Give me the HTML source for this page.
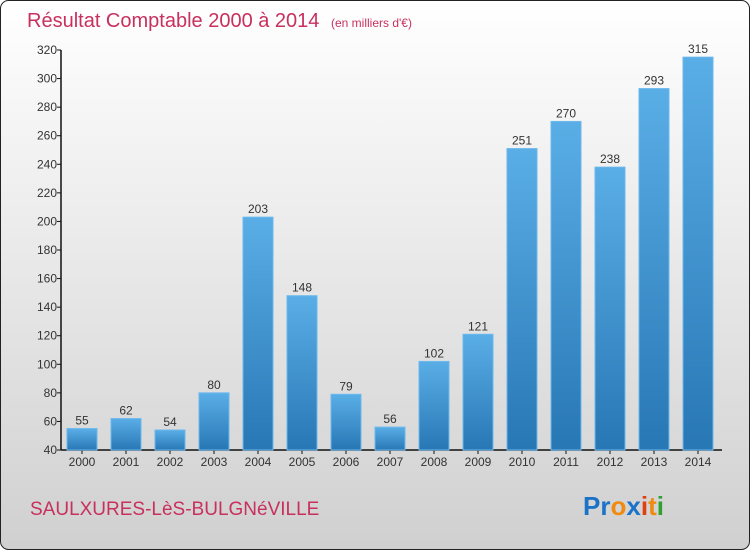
<!DOCTYPE html>
<html><head><meta charset="utf-8"><style>
html,body{margin:0;padding:0}
body{width:750px;height:550px;overflow:hidden;font-family:"Liberation Sans",sans-serif}
</style></head><body>
<svg width="750" height="550" xmlns="http://www.w3.org/2000/svg">
<defs>
<linearGradient id="bg" x1="0" y1="0" x2="0" y2="1"><stop offset="0" stop-color="#ffffff"/><stop offset="1" stop-color="#d0d0d0"/></linearGradient>
<linearGradient id="bar" x1="0" y1="0" x2="0" y2="1"><stop offset="0" stop-color="#5aaee6"/><stop offset="1" stop-color="#2877b5"/></linearGradient>
</defs>
<rect x="0.5" y="0.5" width="749" height="549" rx="8" fill="url(#bg)" stroke="#222"/>
<text x="27" y="27" font-size="20" fill="#c8305e">Résultat Comptable 2000 à 2014 <tspan font-size="12" dx="6">(en milliers d'€)</tspan></text>
<g id="axes"></g>
<g id="bars"></g>
<text x="30" y="515" font-size="19" fill="#c8305e">SAULXURES-LèS-BULGNéVILLE</text>
<text x="583" y="515" font-size="26" font-weight="bold"><tspan fill="#1a73c8">Pr</tspan><tspan fill="#f08a10">o</tspan><tspan fill="#1a73c8">x</tspan><tspan fill="#e04010">i</tspan><tspan fill="#f08a10">t</tspan><tspan fill="#30a030">i</tspan></text>
<script>
const years=["2000","2001","2002","2003","2004","2005","2006","2007","2008","2009","2010","2011","2012","2013","2014"];
const values=[55,62,54,80,203,148,79,56,102,121,251,270,238,293,315];
const yTicks=[40,60,80,100,120,140,160,180,200,220,240,260,280,300,320];
const NS="http://www.w3.org/2000/svg";
const y0=450,yTop=50,vMin=40,vMax=320,xAxis=61,x0=82,step=44,bw=30;
function ys(v){return y0-(v-vMin)*(y0-yTop)/(vMax-vMin);}
function xs(i){return x0+i*step;}
function mk(tag,attrs,parent,text){const e=document.createElementNS(NS,tag);for(const k in attrs)e.setAttribute(k,attrs[k]);if(text!==undefined)e.textContent=text;parent.appendChild(e);return e;}
const ax=document.getElementById('axes'),bg=document.getElementById('bars');
let l=mk('line',{x1:xAxis,y1:yTop,x2:xAxis,y2:y0,stroke:'#111','stroke-width':1.5},ax);


l=mk('line',{x1:xAxis,y1:y0,x2:722,y2:y0,stroke:'#111','stroke-width':1.5},ax);


yTicks.forEach(t=>{
 const y=ys(t);
 const tk=mk('line',{x1:xAxis-4,y1:y,x2:xAxis,y2:y,stroke:'#111'},ax);
 
 
 const tx=mk('text',{x:xAxis-4,y:y+4,'text-anchor':'end','font-size':12,fill:'#333'},ax,t);
 
 
});
years.forEach((yr,i)=>{
 const cx=xs(i),top=ys(values[i]);
 const r=mk('rect',{x:cx-bw/2,y:top,width:bw,height:y0-top,fill:'url(#bar)',stroke:'#6bb8ee','stroke-width':1},bg);
 
 
 const v=mk('text',{x:cx,y:top-4,'text-anchor':'middle','font-size':12,fill:'#333'},bg,values[i]);
 
 
 const xl=mk('text',{x:cx,y:466,'text-anchor':'middle','font-size':12,fill:'#333'},bg,yr);
 
 
 const xt=mk('line',{x1:cx,y1:y0,x2:cx,y2:y0+4,stroke:'#111'},ax);
 
 
});
</script>
</svg>
</body></html>
